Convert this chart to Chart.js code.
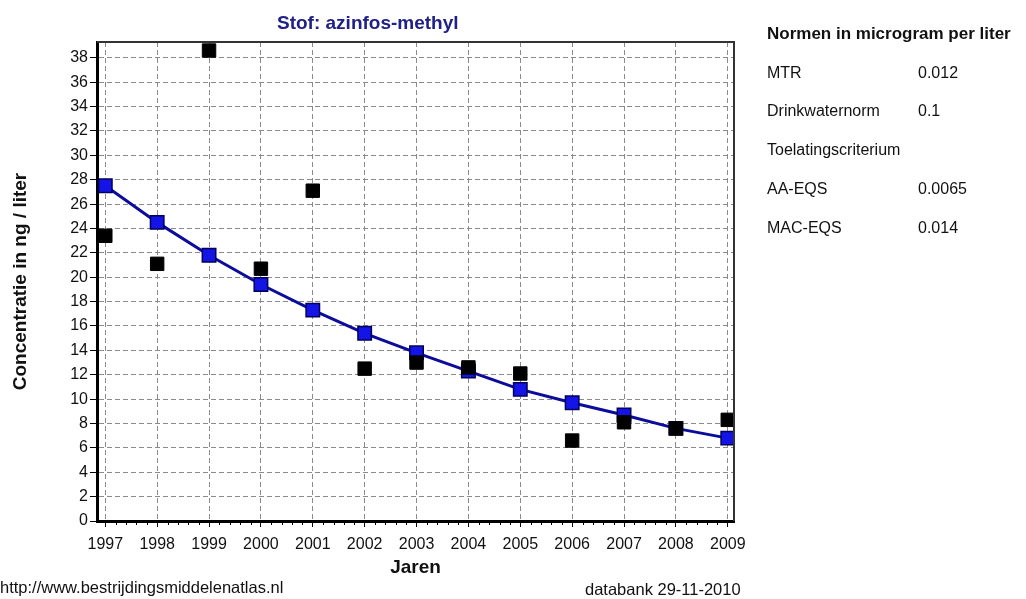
<!DOCTYPE html>
<html>
<head>
<meta charset="utf-8">
<script src="https://cdn.jsdelivr.net/npm/chart.js@4.4.0/dist/chart.umd.min.js"></script>
<style>
  body { margin: 0; background: #fff; width: 1026px; height: 599px; overflow: hidden; position: relative; font-family: "Liberation Sans", Arial, sans-serif; color: #111; }
  #chart { position: absolute; left: 0; top: 0; }
  .txt { position: absolute; white-space: nowrap; line-height: 1; }
</style>
</head>
<body>
<canvas id="chart" width="1026" height="599"></canvas>
<div class="txt" style="left:277px; top:13px; font-size:19px; font-weight:bold; color:#202088;">Stof: azinfos-methyl</div>

<div class="txt" style="left:767px; top:25px; font-size:17px; font-weight:bold;">Normen in microgram per liter</div>
<div id="normen"></div>

<div class="txt" style="left:0px; top:579px; font-size:16.5px;">http://www.bestrijdingsmiddelenatlas.nl</div>
<div class="txt" style="left:585px; top:581px; font-size:16.5px;">databank 29-11-2010</div>

<script>
// jaren en waarden
const years = [1997, 1998, 1999, 2000, 2001, 2002, 2003, 2004, 2005, 2006, 2007, 2008, 2009];
const measured = [23.4, 21.1, 38.6, 20.7, 27.1, 12.5, 13.0, 12.6, 12.1, 6.6, 8.1, 7.6, 8.3];
const trend = [27.5, 24.5, 21.8, 19.4, 17.3, 15.4, 13.8, 12.3, 10.8, 9.7, 8.7, 7.6, 6.8];

// normen tabel rechts
const normLabels = ['MTR', 'Drinkwaternorm', 'Toelatingscriterium', 'AA-EQS', 'MAC-EQS'];
const normValues = ['0.012', '0.1', '', '0.0065', '0.014'];

const normDiv = document.getElementById('normen');
normLabels.forEach((lab, i) => {
    const top = 64.5 + i * 38.8;
    normDiv.innerHTML += `<div class="txt" style="left:767px; top:${top}px; font-size:16px;">${lab}</div>` +
        `<div class="txt" style="left:918px; top:${top}px; font-size:16px;">${normValues[i]}</div>`;
});

// kader boven/rechts en kleine streepjes op de x-as
const framePlugin = {
    id: 'frame',
    afterDraw(chart) {
        const ctx = chart.ctx;
        const a = chart.chartArea;
        const xs = chart.scales.x;
        ctx.save();
        ctx.strokeStyle = '#333';
        ctx.lineWidth = 2;
        ctx.beginPath();
        ctx.moveTo(a.left, a.top);
        ctx.lineTo(a.right, a.top);
        ctx.lineTo(a.right, a.bottom);
        ctx.stroke();
        ctx.strokeStyle = '#000';
        ctx.lineWidth = 1;
        ctx.beginPath();
        for (let y = years[0] - 1; y <= years[years.length - 1]; y++) {
            for (let k = 1; k < 5; k++) {
                const v = y + k / 5;
                if (v < xs.min || v > xs.max) continue;
                const px = Math.round(xs.getPixelForValue(v)) + 0.5;
                ctx.moveTo(px, a.bottom);
                ctx.lineTo(px, a.bottom + 4);
            }
        }
        ctx.stroke();
        ctx.restore();
    }
};

const tickFont = { family: 'Liberation Sans', size: 16 };

new Chart(document.getElementById('chart'), {
    type: 'line',
    data: {
        datasets: [
            {
                label: 'Meting',
                data: years.map((y, i) => ({ x: y, y: measured[i] })),
                showLine: false,
                pointStyle: 'rect',
                pointRadius: 9.5,
                pointBackgroundColor: '#000',
                pointBorderColor: '#000',
                pointBorderWidth: 1
            },
            {
                label: 'Trend',
                data: years.map((y, i) => ({ x: y, y: trend[i] })),
                borderColor: '#0c0c9c',
                borderWidth: 3,
                pointStyle: 'rect',
                pointRadius: 9.5,
                pointBackgroundColor: '#1414e6',
                pointBorderColor: '#00005a',
                pointBorderWidth: 1.5
            }
        ]
    },
    options: {
        responsive: false,
        animation: false,
        layout: { padding: { top: 42, right: 292, left: 0, bottom: 0 } },
        plugins: { legend: { display: false }, tooltip: { enabled: false } },
        scales: {
            x: {
                type: 'linear',
                min: 1996.84,
                max: 2009.12,
                afterFit: s => { s.height = 78; },
                ticks: { stepSize: 1, includeBounds: false, color: '#111', font: tickFont, padding: 8, maxRotation: 0, callback: v => String(v) },
                grid: { color: '#8a8a8a', lineWidth: 1, tickColor: '#000', tickLength: 6 },
                border: { color: '#000', width: 3, dash: [5, 3] },
                title: { display: true, text: 'Jaren', color: '#111', font: { family: 'Liberation Sans', size: 19, weight: 'bold' }, padding: { top: 0, bottom: 20 } }
            },
            y: {
                min: 0,
                max: 39.3,
                afterFit: s => { s.width = 97; },
                ticks: { stepSize: 2, includeBounds: false, color: '#111', font: tickFont, padding: 2 },
                grid: { color: '#8a8a8a', lineWidth: 1, tickColor: '#000', tickLength: 7 },
                border: { color: '#000', width: 3, dash: [5, 3] },
                title: { display: true, text: 'Concentratie in ng / liter', color: '#111', font: { family: 'Liberation Sans', size: 19, weight: 'bold' }, padding: { top: 9, bottom: 0 } }
            }
        }
    },
    plugins: [framePlugin]
});
</script>
</body>
</html>
